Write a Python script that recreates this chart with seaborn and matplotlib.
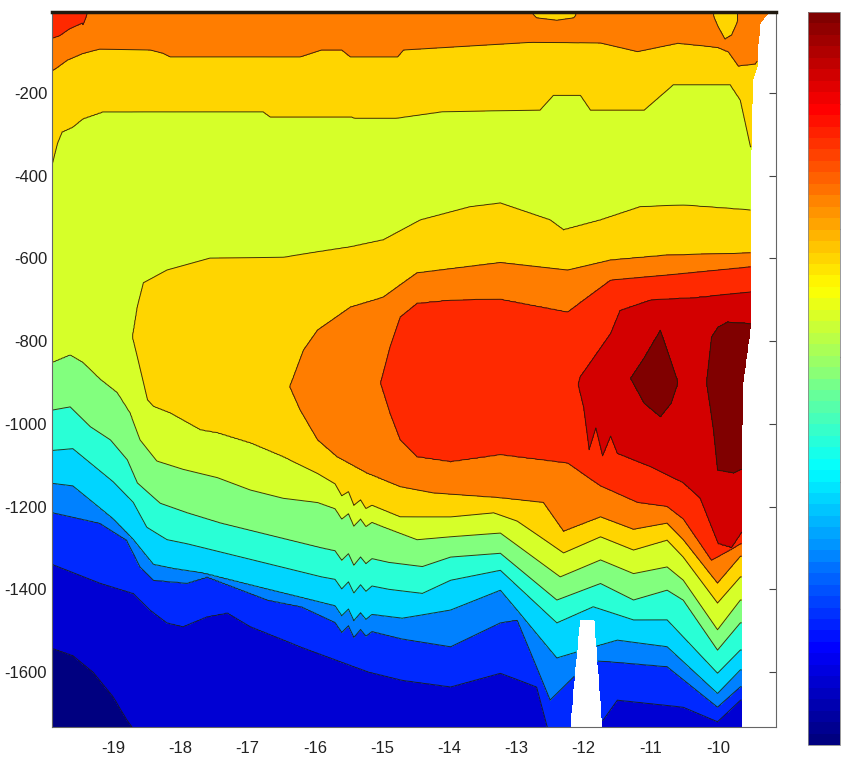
import numpy as np
import matplotlib
matplotlib.use("Agg")
import matplotlib.pyplot as plt
from matplotlib.colors import Normalize, ListedColormap, LinearSegmentedColormap
from matplotlib.cm import ScalarMappable
import seaborn as sns

sns.set_style("white")
plt.rcParams["font.family"] = ["Liberation Sans", "DejaVu Sans"]

# ---- section data: depth (m) of each contour boundary along longitude ----
# boundary k separates band k-1 (below) from band k (above in value)
surface_value = [(-19.95, 10.5), (-19.45, 10.5), (-19.3, 9.5), (-12.8, 9.5),
                 (-12.72, 8.6), (-12.15, 8.6), (-12.08, 9.5), (-10.1, 9.5),
                 (-10.04, 8.6), (-9.74, 8.6), (-9.68, 9.5), (-9.15, 9.5)]
surface_pocket_west = [(-12.8, 2), (-12.7, 18), (-12.4, 24), (-12.15, 18), (-12.06, 2)]
surface_pocket_east = [(-10.1, 2), (-10.0, 40), (-9.9, 70), (-9.8, 60), (-9.72, 30),
                       (-9.66, 2)]
L10_top = [(-19.95, 70), (-19.8, 62), (-19.65, 45), (-19.45, 30)]
L9_top = [(-19.95, 150), (-19.85, 140), (-19.68, 120), (-19.45, 104), (-19.2, 94),
          (-18.45, 96), (-18.26, 104), (-18.15, 113), (-16.22, 113), (-15.9, 96),
          (-15.6, 96), (-15.47, 113), (-14.77, 113), (-14.68, 96), (-12.75, 77),
          (-11.75, 79), (-11.2, 100), (-10.6, 80), (-10.0, 90), (-9.85, 100),
          (-9.7, 135), (-9.45, 130), (-9.15, 60)]
L8_top = [(-19.95, 400), (-19.83, 322), (-19.76, 294), (-19.6, 282), (-19.45, 262),
          (-19.15, 245), (-16.77, 245), (-16.66, 258), (-15.45, 258), (-15.4, 261),
          (-14.8, 261), (-14.1, 245), (-12.65, 241), (-12.45, 205), (-12.05, 205),
          (-11.9, 241), (-11.1, 241), (-10.67, 180), (-9.82, 180), (-9.67, 217),
          (-9.52, 330), (-9.15, 345)]

# intermediate-water core: upper (rising) and lower (falling) crossings
L8_up = [(-18.71, 790), (-18.64, 717), (-18.55, 659), (-18.2, 628), (-17.56, 599),
         (-16.47, 597), (-15.96, 584), (-15.47, 572), (-14.98, 555), (-14.43, 507),
         (-13.69, 475), (-13.24, 466), (-12.5, 507), (-12.3, 531), (-11.75, 507),
         (-11.16, 475), (-10.52, 471), (-9.52, 483), (-9.15, 483)]
L8_dn = [(-18.71, 790), (-18.64, 838), (-18.49, 942), (-18.4, 958), (-18.15, 974),
         (-17.7, 1015), (-17.45, 1022), (-16.95, 1047), (-16.47, 1080), (-15.96, 1120),
         (-15.7, 1145), (-15.6, 1174), (-15.5, 1164), (-15.42, 1197), (-15.32, 1184),
         (-15.24, 1205), (-15.15, 1197), (-14.73, 1225), (-13.98, 1225), (-13.34, 1215),
         (-12.99, 1235), (-12.3, 1312), (-11.75, 1273), (-11.26, 1305), (-10.76, 1281),
         (-10.52, 1322), (-10.01, 1433), (-9.67, 1370), (-9.15, 1370)]
L9_up = [(-16.37, 910), (-16.17, 822), (-15.96, 773), (-15.47, 717), (-14.98, 693),
         (-14.48, 635), (-13.24, 610), (-12.24, 628), (-11.6, 604), (-10.76, 592),
         (-9.52, 587), (-9.15, 587)]
L9_dn = [(-16.37, 910), (-16.22, 966), (-15.96, 1039), (-15.67, 1080), (-15.22, 1120),
         (-14.73, 1152), (-14.24, 1167), (-13.24, 1179), (-12.6, 1190), (-12.3, 1260),
         (-11.75, 1225), (-11.26, 1255), (-10.76, 1240), (-10.52, 1280), (-10.01, 1385),
         (-9.67, 1320), (-9.15, 1320)]
L10_up = [(-15.02, 901), (-14.88, 813), (-14.73, 741), (-14.48, 708), (-13.98, 700),
          (-13.24, 698), (-12.24, 729), (-11.6, 652), (-10.76, 640), (-9.52, 620),
          (-9.15, 620)]
L10_dn = [(-15.02, 901), (-14.88, 975), (-14.73, 1039), (-14.48, 1080), (-13.98, 1092),
          (-13.24, 1075), (-12.24, 1095), (-11.75, 1150), (-11.2, 1190), (-10.76, 1200),
          (-10.52, 1230), (-10.1, 1330), (-9.67, 1290), (-9.15, 1290)]
L11_up = [(-12.08, 905), (-12.05, 886), (-11.6, 781), (-11.46, 725), (-11.0, 700),
          (-10.27, 693), (-9.52, 681), (-9.15, 681)]
L11_dn = [(-12.08, 905), (-12.0, 960), (-11.92, 1063), (-11.82, 1010), (-11.72, 1078),
          (-11.6, 1030), (-11.5, 1072), (-11.0, 1104), (-10.52, 1143), (-10.27, 1180),
          (-10.0, 1290), (-9.8, 1300), (-9.6, 1250), (-9.15, 1250)]
L12_up_west = [(-11.3, 890), (-11.1, 840), (-10.86, 773), (-10.7, 850), (-10.6, 900)]
L12_dn_west = [(-11.3, 890), (-11.1, 950), (-10.86, 983), (-10.7, 950), (-10.6, 900)]
L12_up_east = [(-10.17, 900), (-10.1, 790), (-10.0, 765), (-9.86, 753), (-9.52, 757),
               (-9.15, 757)]
L12_dn_east = [(-10.17, 900), (-10.07, 1015), (-10.01, 1112), (-9.77, 1119),
               (-9.52, 1100), (-9.15, 1100)]

# deep boundaries (falling with depth)
L7 = [(-19.95, 855), (-19.64, 834), (-19.45, 852), (-19.19, 893), (-18.94, 925),
      (-18.75, 974), (-18.6, 1039), (-18.35, 1090), (-17.96, 1110), (-17.45, 1130),
      (-16.96, 1160), (-16.47, 1180), (-15.96, 1190), (-15.7, 1205), (-15.6, 1230),
      (-15.5, 1217), (-15.42, 1247), (-15.32, 1230), (-15.24, 1248), (-15.15, 1238),
      (-14.98, 1249), (-14.48, 1280), (-13.98, 1273), (-13.24, 1264), (-12.35, 1370),
      (-11.75, 1329), (-11.26, 1362), (-10.76, 1346), (-10.52, 1378), (-10.01, 1498),
      (-9.67, 1426), (-9.15, 1426)]
L6 = [(-19.95, 968), (-19.64, 959), (-19.34, 1007), (-19.04, 1039), (-18.79, 1087),
      (-18.64, 1143), (-18.3, 1192), (-17.9, 1215), (-17.4, 1240), (-16.9, 1260),
      (-16.4, 1280), (-15.9, 1300), (-15.7, 1307), (-15.6, 1330), (-15.5, 1314),
      (-15.42, 1342), (-15.32, 1322), (-15.24, 1338), (-15.15, 1326), (-14.9, 1335),
      (-14.4, 1345), (-13.98, 1322), (-13.24, 1313), (-12.4, 1426), (-11.75, 1386),
      (-11.26, 1426), (-10.76, 1402), (-10.52, 1426), (-10.01, 1547), (-9.67, 1481),
      (-9.15, 1481)]
L5 = [(-19.95, 1065), (-19.6, 1060), (-19.3, 1100), (-19.0, 1140), (-18.7, 1190),
      (-18.5, 1250), (-18.2, 1280), (-17.9, 1290), (-17.4, 1310), (-16.9, 1330),
      (-16.4, 1350), (-15.9, 1370), (-15.7, 1376), (-15.6, 1399), (-15.5, 1382),
      (-15.42, 1409), (-15.32, 1389), (-15.24, 1405), (-15.15, 1392), (-14.9, 1400),
      (-14.4, 1410), (-13.98, 1378), (-13.24, 1354), (-12.4, 1481), (-11.86, 1442),
      (-11.26, 1474), (-10.76, 1474), (-10.01, 1603), (-9.67, 1547), (-9.15, 1547)]
L4 = [(-19.95, 1143), (-19.6, 1150), (-19.3, 1190), (-19.0, 1230), (-18.7, 1280),
      (-18.4, 1340), (-18.1, 1350), (-17.7, 1360), (-17.2, 1380), (-16.7, 1400),
      (-16.2, 1420), (-15.7, 1440), (-15.6, 1464), (-15.5, 1448), (-15.42, 1476),
      (-15.32, 1457), (-15.24, 1473), (-15.15, 1461), (-14.7, 1470), (-13.98, 1450),
      (-13.24, 1402), (-12.4, 1566), (-11.5, 1523), (-10.76, 1539), (-10.01, 1652),
      (-9.67, 1595), (-9.15, 1595)]
L3 = [(-19.95, 1213), (-19.2, 1240), (-18.8, 1281), (-18.6, 1346), (-18.4, 1378),
      (-17.9, 1385), (-17.6, 1370), (-17.2, 1395), (-16.7, 1426), (-16.2, 1442),
      (-15.7, 1480), (-15.6, 1504), (-15.5, 1488), (-15.42, 1516), (-15.32, 1497),
      (-15.24, 1513), (-15.15, 1502), (-14.7, 1520), (-13.98, 1539), (-13.24, 1481),
      (-12.99, 1474), (-12.5, 1668), (-11.9, 1571), (-10.76, 1587), (-10.01, 1685),
      (-9.67, 1636), (-9.15, 1636)]
L2 = [(-19.95, 1337), (-19.2, 1385), (-18.7, 1410), (-18.45, 1450), (-18.2, 1481),
      (-17.96, 1490), (-17.6, 1466), (-17.3, 1457), (-16.96, 1490), (-16.47, 1522),
      (-16.2, 1540), (-15.7, 1570), (-15.2, 1600), (-14.7, 1620), (-13.98, 1636),
      (-13.24, 1603), (-12.7, 1636), (-12.5, 1760), (-11.9, 1760), (-11.5, 1668),
      (-10.52, 1685), (-10.01, 1720), (-9.67, 1668), (-9.15, 1668)]
L1 = [(-19.95, 1540), (-19.6, 1560), (-19.3, 1600), (-19.0, 1660), (-18.8, 1715),
      (-18.6, 1760), (-18.0, 1800), (-9.15, 1800)]

# eastern limit of data (slope) and the seamount near 12W
east_edge_depth = [0, 7, 31, 79, 137, 168, 338, 770, 900, 1000, 1800]
east_edge_lon = [-9.24, -9.25, -9.37, -9.40, -9.42, -9.48, -9.51, -9.52, -9.63, -9.64, -9.64]
seamount_lon = [-12.3, -12.2, -12.06, -11.84, -11.72, -11.6]
seamount_depth = [1800, 1733, 1474, 1474, 1733, 1800]

x_ticks = [-19, -18, -17, -16, -15, -14, -13, -12, -11, -10]
y_ticks = [-1600, -1400, -1200, -1000, -800, -600, -400, -200]
n_bands = 13

# MATLAB-style jet colour ramp
jet_m = LinearSegmentedColormap("jet_m", {
    "red": [(0, 0, 0), (0.375, 0, 0), (0.625, 1, 1), (0.875, 1, 1), (1, 0.5, 0.5)],
    "green": [(0, 0, 0), (0.125, 0, 0), (0.375, 1, 1), (0.625, 1, 1), (0.875, 0, 0), (1, 0, 0)],
    "blue": [(0, 0.5, 0.5), (0.125, 1, 1), (0.375, 1, 1), (0.625, 0, 0), (1, 0, 0)],
}, N=256)


def along(line, lon):
    a = np.array(line, dtype=float)
    return np.interp(lon, a[:, 0], a[:, 1], left=np.nan, right=np.nan)


def either(a, b):
    return np.where(np.isnan(a), b, a)


lon = np.arange(-19.95, -9.14, 0.01)
depth = np.arange(0.0, 1760.0, 3.0)

surf = along(surface_value, lon)
pocket = either(along(surface_pocket_west, lon), along(surface_pocket_east, lon))
top10, top9, top8 = along(L10_top, lon), along(L9_top, lon), along(L8_top, lon)
ups = {8: along(L8_up, lon), 9: along(L9_up, lon), 10: along(L10_up, lon),
       11: along(L11_up, lon),
       12: either(along(L12_up_west, lon), along(L12_up_east, lon))}
dns = {8: along(L8_dn, lon), 9: along(L9_dn, lon), 10: along(L10_dn, lon),
       11: along(L11_dn, lon),
       12: either(along(L12_dn_west, lon), along(L12_dn_east, lon))}
deep = [(7, along(L7, lon)), (6, along(L6, lon)), (5, along(L5, lon)),
        (4, along(L4, lon)), (3, along(L3, lon)), (2, along(L2, lon)),
        (1, along(L1, lon))]

Z = np.empty((depth.size, lon.size))
for j in range(lon.size):
    kd, kv = [0.0], [surf[j]]

    def add(d, v):
        if np.isfinite(d):
            kd.append(d)
            kv.append(v)

    if np.isfinite(pocket[j]):
        add(pocket[j], 9)
        add(0.5 * (pocket[j] + top9[j]), 9.5)
    add(top10[j], 10)
    add(top9[j], 9)
    add(top8[j], 8)
    core = [k for k in range(8, 13) if np.isfinite(ups[k][j]) and np.isfinite(dns[k][j])]
    if core:
        hi = max(core)
        add(0.5 * (top8[j] + ups[8][j]), 7.5)
        for k in range(8, hi + 1):
            add(ups[k][j], k)
        add(0.5 * (ups[hi][j] + dns[hi][j]), hi + 0.5)
        for k in range(hi, 7, -1):
            add(dns[k][j], k)
    for k, arr in deep:
        add(arr[j], k)
    add(2000.0, 0.5)
    kd = np.maximum.accumulate(np.array(kd)) + np.arange(len(kd)) * 1e-3
    Z[:, j] = np.interp(depth, kd, np.array(kv))

LON, DEP = np.meshgrid(lon, depth)
east_lim = np.interp(depth, east_edge_depth, east_edge_lon)[:, None]
floor = np.interp(lon, seamount_lon, seamount_depth)[None, :]
Zm = np.ma.masked_where((LON > east_lim) | (DEP > floor), Z)

band_colors = [jet_m(k / (n_bands - 1)) for k in range(n_bands)]
levels = np.arange(0, n_bands + 1)

fig = plt.figure(figsize=(8.46, 7.58), dpi=100)
ax = fig.add_axes([52 / 846, 1 - 727 / 758, 724 / 846, 715 / 758])
ax.contourf(LON, -DEP, Zm, levels=levels, colors=band_colors)
ax.contour(LON, -DEP, Zm, levels=levels[1:-1], colors="#1a1a0a",
           linewidths=0.7, alpha=0.85)

ax.set_xlim(-19.91, -9.14)
ax.set_ylim(-1733, -4)
ax.set_xticks(x_ticks)
ax.set_yticks(y_ticks)
ax.set_xticklabels([str(v) for v in x_ticks])
ax.set_yticklabels([str(v) for v in y_ticks])
ax.tick_params(direction="in", length=5, width=0.8, color="#444444",
               top=True, right=True, labelsize=12, labelcolor="#222222")
ax.tick_params(axis="x", pad=10)
ax.tick_params(axis="y", pad=3.5)
for side, sp in ax.spines.items():
    sp.set_color("#666666")
    sp.set_linewidth(0.8)
ax.spines["top"].set_color("#201a10")
ax.spines["top"].set_linewidth(2.5)

cax = fig.add_axes([808 / 846, 1 - 745 / 758, 32 / 846, 733 / 758])
sm = ScalarMappable(norm=Normalize(0, n_bands - 1),
                    cmap=ListedColormap(jet_m(np.linspace(0, 1, 64))))
cb = fig.colorbar(sm, cax=cax)
cb.set_ticks([2.23, 4.30, 6.36, 8.44, 10.5])
cb.set_ticklabels([])
cax.yaxis.set_ticks_position("both")
cax.tick_params(direction="in", length=4, width=0.8, color="#333333")
cb.outline.set_edgecolor("#888888")
cb.outline.set_linewidth(0.6)

fig.savefig("out.png", dpi=100)
